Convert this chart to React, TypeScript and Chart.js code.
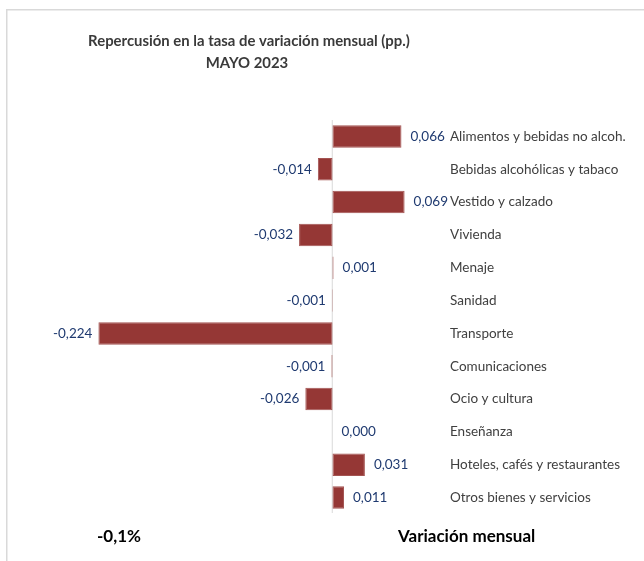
import React, { useEffect, useRef } from "react";
import { Chart, registerables } from "chart.js";
Chart.register(...registerables);

const categories = [
  "Alimentos y bebidas no alcoh.",
  "Bebidas alcohólicas y tabaco",
  "Vestido y calzado",
  "Vivienda",
  "Menaje",
  "Sanidad",
  "Transporte",
  "Comunicaciones",
  "Ocio y cultura",
  "Enseñanza",
  "Hoteles, cafés y restaurantes",
  "Otros bienes y servicios",
];
const values = [0.066, -0.014, 0.069, -0.032, 0.001, -0.0006, -0.224, -0.001, -0.026, 0.0, 0.031, 0.011];
const titleLines = ["Repercusión en la tasa de variación mensual (pp.)", "MAYO 2023"];
const footLeft = "-0,1%";
const footRight = "Variación mensual";

const FONT = 'Lato, "DejaVu Sans Condensed", sans-serif';

const fmt = (v: number) => v.toFixed(3).replace(".", ",");

const overlay = {
  id: "overlay",
  beforeDraw(chart: any) {
    const ctx = chart.ctx;
    ctx.save();
    ctx.fillStyle = "#ffffff";
    ctx.fillRect(0, 0, chart.width, chart.height);
    ctx.fillStyle = "#d9d9d9";
    ctx.fillRect(6, 9, chart.width - 6, 1.5);
    ctx.fillRect(6, 9, 1.5, chart.height - 9);
    ctx.restore();
  },
  beforeDatasetsDraw(chart: any) {
    const ctx = chart.ctx;
    const x0 = chart.scales.x.getPixelForValue(0);
    const { top, bottom } = chart.chartArea;
    ctx.save();
    ctx.fillStyle = "#d9d9d9";
    ctx.fillRect(x0 - 0.75, top, 1, bottom - top - 1);
    ctx.restore();
  },
  afterDatasetsDraw(chart: any) {
    const ctx = chart.ctx;
    const meta = chart.getDatasetMeta(0);
    ctx.save();
    ctx.font = `13.5px ${FONT}`;
    ctx.fillStyle = "#1F3A70";
    ctx.textBaseline = "middle";
    meta.data.forEach((bar: any, i: number) => {
      const v = values[i];
      if (v >= 0) {
        ctx.textAlign = "left";
        ctx.fillText(fmt(v), bar.x + 9, bar.y);
      } else {
        ctx.textAlign = "right";
        ctx.fillText(fmt(v), bar.x - 6, bar.y);
      }
    });
    ctx.fillStyle = "#3a3a3a";
    ctx.textAlign = "center";
    ctx.font = `bold 14.9px ${FONT}`;
    ctx.fillText(titleLines[0], 249, 41);
    ctx.fillText(titleLines[1], 247, 63);
    ctx.fillStyle = "#000000";
    ctx.font = `bold 17px ${FONT}`;
    ctx.fillText(footLeft, 119, 537);
    ctx.textAlign = "left";
    ctx.fillText(footRight, 398, 537);
    ctx.restore();
  },
};

export default function App() {
  const ref = useRef<HTMLCanvasElement>(null);
  useEffect(() => {
    const chart = new Chart(ref.current!, {
      type: "bar",
      data: {
        labels: categories,
        datasets: [
          {
            data: values,
            backgroundColor: "#953735",
            borderColor: "#a45452",
            borderWidth: 1,
            borderSkipped: false,
            categoryPercentage: 1,
            barPercentage: 0.686,
          },
        ],
      },
      plugins: [overlay],
      options: {
        indexAxis: "y",
        responsive: false,
        animation: false,
        devicePixelRatio: 1,
        layout: { padding: { left: 19, right: 0, top: 120, bottom: 47 } },
        plugins: { legend: { display: false }, tooltip: { enabled: false }, title: { display: false } },
        scales: {
          x: { display: false, min: -0.3, max: 0.1 },
          y: {
            position: "right",
            grid: { display: false, drawTicks: false },
            border: { display: false },
            afterFit: (s: any) => {
              s.width = 207;
            },
            ticks: {
              padding: 13,
              crossAlign: "near",
              autoSkip: false,
              color: "#404040",
              font: { family: FONT, size: 13.5 },
            },
          },
        },
      },
    });
    return () => chart.destroy();
  }, []);
  return (
    <div style={{ position: "absolute", left: 0, top: 0, width: 644, height: 561 }}>
      <canvas ref={ref} width={644} height={561} style={{ width: 644, height: 561, display: "block" }} />
    </div>
  );
}
